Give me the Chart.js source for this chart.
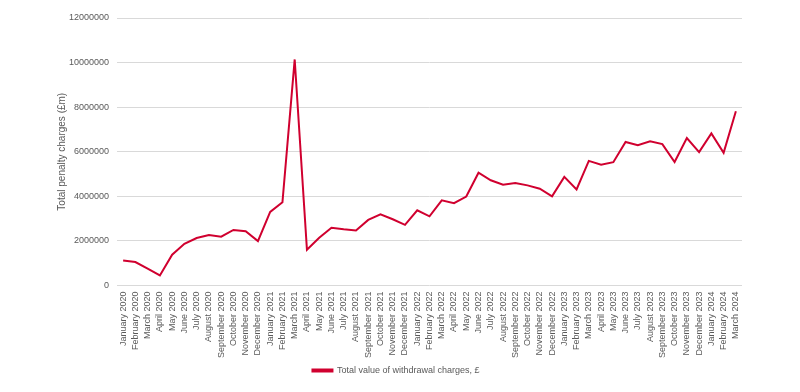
<!DOCTYPE html>
<html>
<head>
<meta charset="utf-8">
<script src="https://cdn.jsdelivr.net/npm/chart.js@4/dist/chart.umd.min.js"></script>
<style>
  html, body { margin: 0; padding: 0; background: #fff; }
  #wrap { width: 800px; height: 392px; }
</style>
</head>
<body>
<div id="wrap"><canvas id="chart"></canvas></div>
<script>
const months = ['January', 'February', 'March', 'April', 'May', 'June', 'July',
    'August', 'September', 'October', 'November', 'December'];

// January 2020 .. March 2024
const labels = [];
for (let y = 2020; y <= 2024; y++) {
    for (const m of months) {
        labels.push(m + ' ' + y);
    }
}
labels.length = 51;

const withdrawalCharges = [
    1120000, 1050000, 750000, 450000, 1380000, 1870000, 2130000, 2260000, 2190000, 2490000, 2430000, 1990000,
    3300000, 3730000, 10140000, 1600000, 2140000, 2590000, 2520000, 2470000, 2940000, 3190000, 2970000, 2720000,
    3370000, 3100000, 3820000, 3690000, 3990000, 5060000, 4720000, 4520000, 4600000, 4490000, 4340000, 4000000,
    4870000, 4310000, 5590000, 5420000, 5530000, 6440000, 6290000, 6470000, 6340000, 5540000, 6610000, 5980000,
    6820000, 5950000, 7820000
];

const seriesName = 'Total value of withdrawal charges, £';
const yTitle = 'Total penalty charges (£m)';
const lineColor = '#d0002f';
const textColor = '#595959';

Chart.defaults.font.family = '"Liberation Sans", Arial, sans-serif';
Chart.defaults.font.size = 9;
Chart.defaults.color = textColor;

new Chart(document.getElementById('chart'), {
    type: 'line',
    data: {
        labels: labels,
        datasets: [{
            label: seriesName,
            data: withdrawalCharges,
            borderColor: lineColor,
            backgroundColor: lineColor,
            borderWidth: 2,
            pointRadius: 0,
            tension: 0
        }]
    },
    options: {
        responsive: true,
        maintainAspectRatio: false,
        animation: false,
        layout: {
            padding: { top: 18, right: 58, left: 50, bottom: 7 }
        },
        scales: {
            x: {
                offset: true,
                grid: { display: false, drawTicks: false },
                border: { display: false },
                ticks: {
                    autoSkip: false,
                    maxRotation: 90,
                    minRotation: 90,
                    padding: 6
                }
            },
            y: {
                min: 0,
                max: 12000000,
                grid: { color: '#d9d9d9', drawTicks: false },
                border: { display: false },
                ticks: {
                    stepSize: 2000000,
                    padding: 8,
                    callback: (val) => String(val)
                },
                title: {
                    display: true,
                    text: yTitle,
                    color: textColor,
                    font: { size: 10 },
                    padding: { top: 6, bottom: 2 }
                },
                afterFit: (scale) => { scale.width = 67; }
            }
        },
        plugins: {
            legend: {
                position: 'bottom',
                labels: {
                    boxWidth: 20,
                    boxHeight: 2,
                    padding: 2,
                    color: textColor
                }
            },
            tooltip: { enabled: false }
        }
    }
});
</script>
</body>
</html>
